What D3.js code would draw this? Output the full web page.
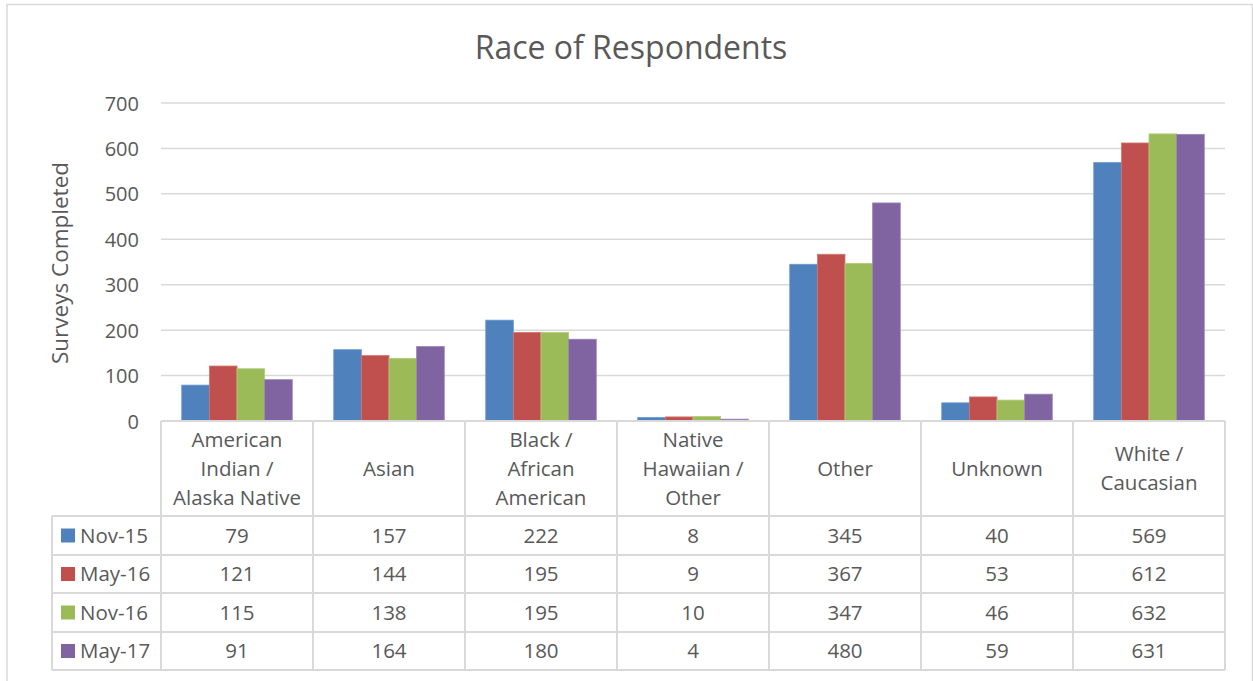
<!DOCTYPE html>
<html><head><meta charset="utf-8">
<script src="https://cdn.jsdelivr.net/npm/d3@7"></script>
<style>
html,body{margin:0;padding:0;background:#fff;}
svg text{font-family:"Open Sans","Noto Sans",sans-serif;fill:#595959;}
</style></head>
<body><svg id="c" width="1253" height="681"></svg>
<script>
const categories = [["American","Indian /","Alaska Native"],["Asian"],["Black /","African","American"],["Native","Hawaiian /","Other"],["Other"],["Unknown"],["White /","Caucasian"]];
const seriesNames = ["Nov-15","May-16","Nov-16","May-17"];
const nov15 = [79,157,222,8,345,40,569];
const may16 = [121,144,195,9,367,53,612];
const nov16 = [115,138,195,10,347,46,632];
const may17 = [91,164,180,4,480,59,631];
const yTicks = [0,100,200,300,400,500,600,700];
const colors = ["#4F81BD","#C0504D","#9BBB59","#8064A2"];
const strokes = ["#6f9bd0","#d47572","#b2cd7a","#9a83b8"];

const seriesVals = [nov15,may16,nov16,may17];
const svg = d3.select("#c");
const grid = "#d9d9d9";

svg.append("rect").attr("x",7).attr("y",4.5).attr("width",1245.5).attr("height",690)
  .attr("fill","none").attr("stroke",grid).attr("stroke-width",1.5);

const pLeft = 161, pRight = 1225, pTop = 103, pBottom = 421;
const catIdx = categories.map((d,i)=>i);
const x = d3.scaleBand().domain(catIdx).range([pLeft,pRight]).paddingInner(0).paddingOuter(0);
const xs = d3.scaleBand().domain(seriesNames).range([0,x.bandwidth()]).paddingInner(0).paddingOuter(0.75);
const y = d3.scaleLinear().domain([0,700]).range([pBottom,pTop]);

svg.append("text").attr("x",631).attr("y",59).attr("text-anchor","middle")
  .style("font-size","32px").text("Race of Respondents");

svg.append("text").attr("transform","translate(68,263) rotate(-90)").attr("text-anchor","middle")
  .style("font-size","22.5px").text("Surveys Completed");

svg.append("g").selectAll("line").data(yTicks.filter(t=>t>0)).join("line")
  .attr("x1",pLeft).attr("x2",pRight).attr("y1",d=>y(d)).attr("y2",d=>y(d))
  .attr("stroke",grid).attr("stroke-width",1.5);

const yAxis = d3.axisLeft(y).tickValues(yTicks).tickSize(0).tickPadding(0);
const ga = svg.append("g").attr("transform","translate(139,0)").call(yAxis);
ga.select(".domain").remove();
ga.selectAll("text").style("font-size","20px").attr("fill","#595959").attr("dy","0.35em")
  .style("font-family",'"Open Sans","Noto Sans",sans-serif');

const data = [];
seriesVals.forEach((arr,si)=>arr.forEach((v,ci)=>data.push({s:seriesNames[si],si,ci,v})));
svg.append("g").selectAll("rect").data(data).join("rect")
  .attr("x",d=>x(d.ci)+xs(d.s)).attr("width",xs.bandwidth())
  .attr("y",d=>y(d.v)).attr("height",d=>y(0)-y(d.v))
  .attr("fill",d=>colors[d.si]).attr("stroke",d=>strokes[d.si]).attr("stroke-width",0.8);

const rowY = [421,516,555,593,632,670];
const tbl = svg.append("g");
const tl = 52;
const fs = "20.5px";
tbl.append("line").attr("x1",pLeft).attr("x2",pRight).attr("y1",rowY[0]).attr("y2",rowY[0]).attr("stroke",grid).attr("stroke-width",2);
rowY.slice(1).forEach(yy=>{
  tbl.append("line").attr("x1",tl).attr("x2",pRight).attr("y1",yy).attr("y2",yy).attr("stroke",grid).attr("stroke-width",2);
});
catIdx.concat([7]).forEach(i=>{
  const xx = i<7 ? x(i) : pRight;
  tbl.append("line").attr("x1",xx).attr("x2",xx).attr("y1",rowY[0]).attr("y2",rowY[5]).attr("stroke",grid).attr("stroke-width",2);
});
tbl.append("line").attr("x1",tl).attr("x2",tl).attr("y1",rowY[1]).attr("y2",rowY[5]).attr("stroke",grid).attr("stroke-width",2);

categories.forEach((lines,ci)=>{
  const cx = x(ci)+x.bandwidth()/2;
  const cy = (rowY[0]+rowY[1])/2;
  const lh = 29;
  const t = tbl.append("text").attr("text-anchor","middle").style("font-size",fs);
  lines.forEach((ln,li)=>{
    t.append("tspan").attr("x",cx).attr("y",cy+(li-(lines.length-1)/2)*lh).attr("dy","0.35em").text(ln);
  });
});
seriesNames.forEach((s,si)=>{
  const cy = (rowY[si+1]+rowY[si+2])/2;
  tbl.append("rect").attr("x",61).attr("y",cy-7).attr("width",14).attr("height",14).attr("fill",colors[si]);
  tbl.append("text").attr("x",80).attr("y",cy).attr("dy","0.35em").style("font-size",fs).text(s);
  seriesVals[si].forEach((v,ci)=>{
    tbl.append("text").attr("x",x(ci)+x.bandwidth()/2).attr("y",cy).attr("dy","0.35em")
      .attr("text-anchor","middle").style("font-size",fs).text(v);
  });
});
</script></body></html>
